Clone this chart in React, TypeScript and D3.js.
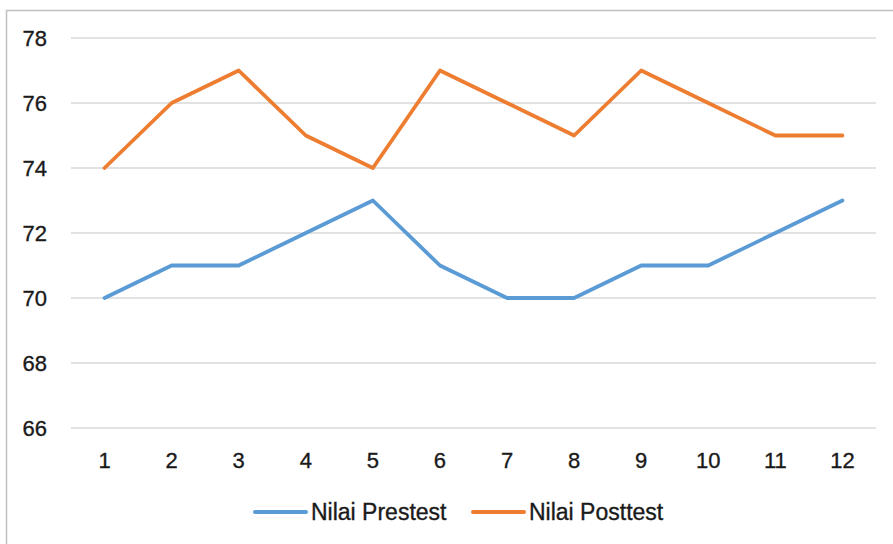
import React, { useRef, useEffect } from 'react';
import * as d3 from 'd3';

const WIDTH = 893;
const HEIGHT = 544;

const categories = ['1', '2', '3', '4', '5', '6', '7', '8', '9', '10', '11', '12'];
const prestest = [70, 71, 71, 72, 73, 71, 70, 70, 71, 71, 72, 73];
const posttest = [74, 76, 77, 75, 74, 77, 76, 75, 77, 76, 75, 75];
const yTicks = [66, 68, 70, 72, 74, 76, 78];

const seriesList = [
  { name: 'Nilai Prestest', values: prestest, color: '#5B9BD5' },
  { name: 'Nilai Posttest', values: posttest, color: '#ED7D31' },
];

const FONT = '"Liberation Sans", Arial, sans-serif';
const TEXT_COLOR = '#1a1a1a';

export default function App() {
  const svgRef = useRef<SVGSVGElement>(null);

  useEffect(() => {
    if (!svgRef.current) return;
    const svg = d3.select(svgRef.current);
    svg.selectAll('*').remove();

    // chart frame (only top/left edges are visible in the crop)
    svg.append('rect')
      .attr('x', 6.5).attr('y', 10.5)
      .attr('width', 1000).attr('height', 1000)
      .attr('fill', '#fff').attr('stroke', '#bfbfbf').attr('stroke-width', 1.5);

    const x = d3.scalePoint<string>().domain(categories).range([71, 876]).padding(0.5);
    const y = d3.scaleLinear().domain([66, 78]).range([428, 38]);

    // gridlines
    svg.append('g')
      .selectAll('line')
      .data(yTicks)
      .join('line')
      .attr('x1', 71).attr('x2', 876)
      .attr('y1', (d) => y(d)).attr('y2', (d) => y(d))
      .attr('stroke', '#d9d9d9').attr('stroke-width', 1.5);

    const styleText = (sel: any) =>
      sel.attr('font-family', FONT).attr('font-size', 22).attr('fill', TEXT_COLOR)
        .attr('stroke', TEXT_COLOR).attr('stroke-width', 0.35);

    // y labels
    svg.append('g')
      .selectAll('text')
      .data(yTicks)
      .join('text')
      .attr('x', 47).attr('y', (d) => y(d))
      .attr('text-anchor', 'end').attr('dominant-baseline', 'central')
      .call(styleText)
      .text((d) => String(d));

    // x labels
    svg.append('g')
      .selectAll('text')
      .data(categories)
      .join('text')
      .attr('x', (d) => x(d) ?? 0).attr('y', 460)
      .attr('text-anchor', 'middle').attr('dominant-baseline', 'central')
      .call(styleText)
      .text((d) => d);

    const line = d3.line<number>()
      .x((_, i) => x(categories[i]) ?? 0)
      .y((d) => y(d));

    seriesList.forEach((s) => {
      svg.append('path')
        .attr('d', line(s.values) ?? '')
        .attr('fill', 'none')
        .attr('stroke', s.color)
        .attr('stroke-width', 3.8)
        .attr('stroke-linejoin', 'round')
        .attr('stroke-linecap', 'round');
    });

    // legend
    const legendX = [255, 473];
    seriesList.forEach((s, i) => {
      const g = svg.append('g').attr('transform', `translate(${legendX[i]}, 512)`);
      g.append('line')
        .attr('x1', 0).attr('x2', 51).attr('y1', 0).attr('y2', 0)
        .attr('stroke', s.color).attr('stroke-width', 4).attr('stroke-linecap', 'round');
      g.append('text')
        .attr('x', 56).attr('y', 0)
        .attr('dominant-baseline', 'central')
        .call(styleText)
        .attr('font-size', 23)
        .text(s.name);
    });
  }, []);

  return (
    <svg
      ref={svgRef}
      width={WIDTH}
      height={HEIGHT}
      viewBox={`0 0 ${WIDTH} ${HEIGHT}`}
      style={{ position: 'fixed', left: 0, top: 0, background: '#fff' }}
    />
  );
}
